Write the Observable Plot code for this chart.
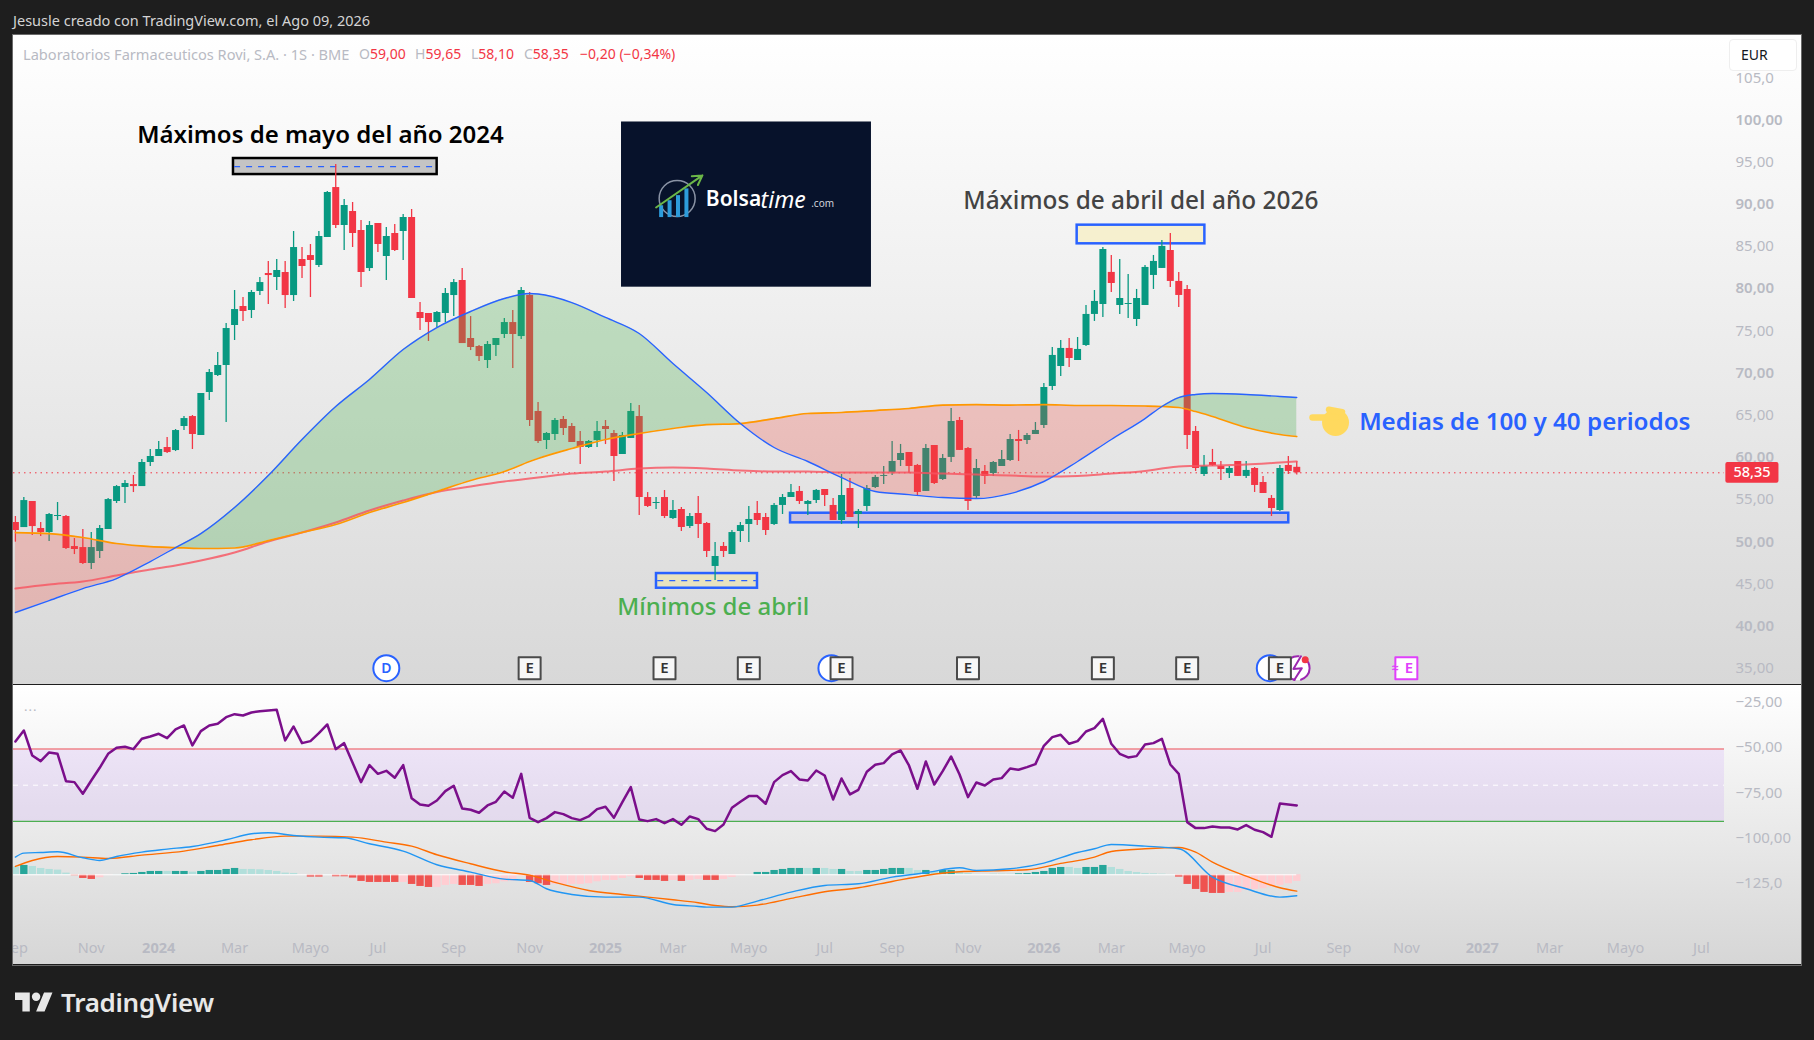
<!DOCTYPE html>
<html lang="es"><head><meta charset="utf-8">
<script src="https://cdn.jsdelivr.net/npm/d3@7"></script>
<script src="https://cdn.jsdelivr.net/npm/@observablehq/plot@0.6"></script>
<style>
html,body{margin:0;padding:0;background:#1e1e1e;width:1814px;height:1040px;overflow:hidden;font-family:"Noto Sans",sans-serif}
.abs{position:absolute;white-space:nowrap}
#frame{position:absolute;left:12px;top:34px;width:1788px;height:930px;border:1px solid #6a6a6a;box-sizing:content-box}
#main,#sub{position:absolute;left:13px;width:1788px;overflow:hidden}
#main{top:35px;height:649px}#sub{top:685px;height:279px}
#main svg,#sub svg{display:block}
</style></head><body>
<div id="frame"></div><div id="main"></div><div id="sub"></div>
<div class="abs" style="left:13px;top:10px;font-size:14.5px;color:#d4d4d4">Jesusle creado con TradingView.com, el Ago 09, 2026</div>
<div class="abs" id="legend" style="left:23px;top:44px;font-size:14px;color:#b8bac3;height:20px">
<span class="abs" style="left:0;font-size:14.6px">Laboratorios Farmaceuticos Rovi, S.A. · 1S · BME</span>
<span class="abs" style="left:336px">O<span style="color:#f23645">59,00</span></span>
<span class="abs" style="left:392px">H<span style="color:#f23645">59,65</span></span>
<span class="abs" style="left:448px">L<span style="color:#f23645">58,10</span></span>
<span class="abs" style="left:501px">C<span style="color:#f23645">58,35</span></span>
<span class="abs" style="left:557px;color:#f23645">−0,20 (−0,34%)</span></div>
<div class="abs" style="left:1729px;top:39px;width:68px;height:32px;background:#fff;border:1px solid #eeeeee;border-radius:4px;box-sizing:border-box;font-size:14px;color:#131722;line-height:30px;padding-left:11px">EUR</div>
<div class="abs" style="left:24px;top:697px;font-size:13px;color:#b8bac3;letter-spacing:1px">...</div>
<svg class="abs" style="left:15px;top:992px" width="38" height="20" viewBox="0 4 36 18"><path fill="#e8e8e8" d="M14 22H7V11H0V4h14v18zM28 22h-8l7.5-18h8L28 22z"/><circle fill="#e8e8e8" cx="20" cy="8" r="4"/></svg>
<div class="abs" style="left:61px;top:984px;font-size:26px;font-weight:600;color:#e8e8e8;letter-spacing:-.3px">TradingView</div>
<script>
const FONT = "'Noto Sans',sans-serif";
// ---- weekly candles (oldest first)
const open = [52.46,51.86,54.95,51.75,51.27,53.17,53.17,49.61,49.49,47.60,49.02,51.63,54.95,56.61,56.96,56.72,59.57,60.28,61.35,60.99,63.84,65.02,62.77,67.87,69.88,71.07,75.81,78.06,77.59,79.84,81.97,
81.50,82.09,79.36,83.63,84.10,82.92,86.24,92.16,87.66,89.32,87.07,82.56,87.90,83.99,86.71,86.95,88.61,77.35,77.23,76.16,77.23,79.36,81.14,74.27,73.32,71.66,73.44,74.74,76.16,74.50,
79.37,65.62,62.18,62.89,64.67,63.84,62.06,61.35,62.18,63.84,63.01,60.52,62.42,65.02,55.42,54.71,55.42,52.93,54.00,51.99,53.53,52.34,47.25,49.62,48.67,51.39,52.22,53.53,53.05,52.22,54.48,55.42,
56.14,54.60,55.07,56.37,54.48,52.70,56.49,53.41,54.36,56.61,57.92,58.39,59.81,60.76,59.22,56.14,61.59,57.56,60.17,64.55,61.23,55.54,58.51,58.27,59.10,59.81,62.30,62.18,62.89,
63.96,68.58,70.95,73.09,71.66,73.44,77.12,78.30,82.10,78.18,78.30,76.52,78.18,81.74,82.57,84.70,81.03,80.08,63.25,58.15,59.57,59.10,58.27,59.69,57.92,58.86,57.20,55.31,53.88,59.22,59.00];
const high = [53.17,55.42,54.95,52.46,53.52,54.83,53.29,50.56,51.63,51.27,52.10,55.30,56.84,57.44,58.03,59.92,61.11,62.06,62.53,63.48,65.02,65.14,67.75,70.59,72.61,76.04,79.96,79.13,79.96,81.50,83.39,
83.63,83.39,86.95,85.05,85.41,86.95,91.69,94.89,90.74,90.39,88.25,88.13,87.90,87.42,87.78,88.96,89.56,78.53,77.23,77.47,80.19,81.26,82.56,76.87,73.44,73.91,74.27,76.64,77.59,80.31,
79.72,66.68,63.13,64.79,65.02,64.20,63.25,62.18,64.43,64.55,63.37,63.13,66.57,66.33,56.01,55.42,56.25,55.07,54.24,53.53,55.54,52.46,50.09,50.09,51.51,52.46,54.36,54.95,53.53,54.71,55.78,56.96,
56.73,55.07,56.37,56.37,55.31,58.15,57.68,54.00,56.85,58.03,59.10,62.06,61.71,60.76,59.34,61.71,61.59,60.52,65.97,64.91,61.35,59.93,59.22,59.69,60.99,62.89,63.37,63.01,64.31,
68.94,73.21,74.03,74.27,74.39,78.18,79.96,85.06,84.11,83.64,81.86,80.08,82.93,84.11,85.89,86.72,82.10,80.55,63.84,60.40,61.12,59.69,59.10,59.69,59.69,58.98,57.92,55.66,59.22,60.29,59.65];
const low = [50.13,51.86,50.92,50.80,50.21,52.69,49.26,48.66,47.48,46.89,48.19,51.63,54.71,54.71,56.01,56.72,59.09,60.28,60.63,60.87,63.36,61.11,62.77,66.92,69.76,64.31,74.03,76.28,76.64,79.36,78.30,
79.96,77.82,78.65,81.38,79.13,82.68,86.24,87.30,84.70,85.05,80.31,82.21,84.46,81.14,84.58,83.51,79.01,75.21,73.91,75.57,76.16,76.87,73.67,72.84,71.54,70.71,72.13,74.27,70.71,74.15,
63.84,61.82,61.11,62.18,62.77,61.94,59.34,61.23,61.35,61.70,57.32,60.52,62.42,53.29,54.24,54.00,52.93,52.82,51.39,51.75,50.56,48.31,45.59,48.31,48.67,50.09,50.09,52.10,50.92,52.10,53.41,55.42,
54.60,53.29,54.71,54.36,52.70,52.23,53.05,51.75,53.77,56.49,56.97,58.03,59.10,58.27,55.66,56.14,56.97,57.44,59.57,61.00,53.88,55.31,56.97,57.92,59.10,59.69,59.69,61.71,62.89,
63.60,68.11,69.77,70.83,71.66,73.32,76.29,76.76,79.72,77.12,76.64,75.69,78.18,80.08,82.57,80.32,77.95,61.12,58.51,57.92,59.10,57.44,57.68,57.92,57.68,56.02,55.90,53.17,53.76,58.15,58.10];
const close = [51.51,55.06,51.98,51.27,53.41,53.29,49.38,49.26,47.60,49.49,51.75,55.18,56.72,57.08,56.72,59.57,60.28,61.11,60.75,63.36,64.78,62.89,67.75,70.24,71.07,75.45,77.70,77.47,79.72,80.90,81.73,
82.33,79.36,85.05,82.80,83.51,86.36,91.57,87.66,90.03,86.71,82.09,87.66,85.41,86.36,84.70,88.61,79.01,76.64,76.16,77.35,79.60,80.90,73.67,73.20,72.13,73.56,74.27,76.16,74.74,79.96,
64.55,62.06,63.01,64.55,63.60,61.94,61.35,62.06,63.25,63.48,60.28,62.77,65.62,55.42,54.36,54.83,53.17,53.88,51.87,53.17,52.22,49.02,48.43,49.02,51.27,52.10,52.82,52.70,51.51,54.48,55.42,56.01,
54.95,54.95,56.26,55.66,52.70,55.66,53.05,53.77,56.49,57.80,58.03,59.69,60.64,59.10,56.02,61.23,57.08,60.05,64.43,61.00,54.95,58.86,57.92,59.57,59.93,62.30,62.06,62.77,63.37,
68.46,72.26,73.09,71.90,72.97,77.12,78.66,84.82,80.79,79.01,78.42,79.01,82.69,83.40,85.18,81.03,79.37,62.77,58.86,59.10,59.22,58.74,58.86,57.92,58.63,56.85,55.90,54.12,58.86,58.51,58.35];
const lastPrice = 58.35;
// ---- moving averages, sampled at bar positions
const maBars = [0,4,8,12,16,19,22,26,30,34,38,42,46,50,54,58,61,62,66,70,74,78,82,86,90,94,98,102,106,110,114,118,122,126,130,134,136,138,140,142,146,150,152];
const maBlue = [41.79,43.21,44.63,45.82,47.83,49.49,51.15,54.24,58.03,62.30,66.21,69.41,72.96,75.57,77.47,79.01,79.60,79.54,78.53,76.76,74.86,71.30,67.87,64.19,61.35,59.69,57.79,56.13,55.77,55.42,55.30,55.89,57.32,59.69,62.30,64.78,66.21,67.27,67.63,67.75,67.63,67.39,67.27];
const maOrange = [51.27,51.15,50.68,49.97,49.61,49.49,49.38,49.44,50.32,51.27,52.22,53.64,54.83,56.13,57.44,58.50,59.69,60.04,61.23,62.30,63.01,63.60,64.07,64.19,64.78,65.38,65.50,65.73,65.97,66.38,66.44,66.38,66.44,66.33,66.33,66.27,66.21,66.09,65.61,65.02,63.72,62.89,62.65];
const maRed = [44.63,45.11,45.46,46.17,46.89,47.36,47.95,48.90,50.21,51.27,52.46,53.88,55.06,56.07,56.73,57.32,57.67,57.79,58.26,58.50,58.86,58.98,58.86,58.62,58.50,58.50,58.38,58.38,58.38,58.26,58.15,58.03,57.91,57.97,58.26,58.56,58.86,59.10,59.16,59.22,59.33,59.57,59.69];
// ---- oscillator line
const wr = [-45.83,-39.75,-53.57,-56.70,-51.91,-52.65,-67.75,-68.30,-74.74,-67.38,-60.38,-52.65,-49.33,-48.78,-50.07,-44.36,-43.07,-41.60,-43.99,-39.20,-36.99,-48.04,-40.12,-36.99,-36.07,-32.39,-30.73,-31.47,-29.81,-29.07,-28.70,-28.34,-45.28,-37.54,-46.75,-45.65,-41.23,-36.44,-50.07,-46.75,-57.62,-68.30,-58.91,-63.70,-62.04,-65.90,-58.91,-77.14,-80.64,-81.37,-78.43,-73.27,-70.32,-82.85,-83.58,-85.24,-81.19,-79.16,-73.46,-76.95,-63.70,-88.00,-90.40,-88.19,-84.87,-85.98,-88.19,-89.29,-87.27,-83.22,-81.93,-88.00,-79.35,-71.06,-88.93,-89.85,-88.74,-90.95,-88.74,-91.87,-87.27,-88.74,
-94.08,-95.37,-91.69,-82.48,-79.16,-76.03,-76.03,-80.27,-68.30,-64.43,-62.22,-66.83,-67.38,-61.85,-64.62,-77.87,-66.27,-75.11,-72.53,-62.59,-58.72,-57.80,-53.01,-50.80,-59.09,-71.98,-56.88,-69.59,-62.22,-54.12,-64.06,-76.59,-68.48,-70.14,-66.83,-66.09,-60.75,-61.49,-60.01,-58.35,-48.23,-43.44,-42.15,-47.12,-45.65,-40.31,-38.47,-33.31,-47.12,-52.65,-54.67,-53.93,-47.49,-46.75,-44.36,-58.54,-63.70,-90.40,-93.71,-93.71,-92.79,-93.34,-93.34,-94.45,-92.05,-94.63,-95.92,-98.50,-80.09,-80.64,-81.19];
// ---- MACD, read against the lower pane's axis
const macdBase = -119.5;
const macdHist = [4.24,5.16,4.60,3.50,2.95,2.58,0.92,-0.55,-2.03,-2.58,-1.66,-0.18,0.18,0.55,0.74,1.29,1.84,1.84,1.84,1.84,1.84,1.47,1.84,2.39,2.39,2.95,3.50,2.95,2.95,2.76,2.39,1.84,0.92,0.74,0,-1.29,-1.29,0.18,-1.10,-1.10,-1.84,-3.68,-4.24,-4.24,-4.24,-4.24,-4.24,-5.34,-6.45,-7.00,-7.00,-5.89,-5.34,-5.89,-5.89,-6.45,-5.34,-4.97,-3.87,-3.50,-0.92,-4.24,-4.97,-5.89,-5.34,-5.34,-5.34,-5.34,-4.97,-3.87,-3.13,-3.13,-2.03,-1.10,-2.03,-3.13,-3.13,-3.68,-3.13,-3.68,-3.13,-2.58,-3.13,-3.13,-2.58,-1.47,-0.18,0.18,1.29,1.29,2.39,2.95,3.50,3.50,3.50,3.50,3.50,2.95,2.95,1.84,1.84,2.39,2.39,2.95,3.50,3.50,3.50,2.39,2.39,1.84,2.39,2.39,1.84,0.74,0.18,0,0.37,0.37,0.37,0.55,0.74,1.29,1.84,3.50,4.05,4.05,3.50,4.05,4.05,5.16,4.05,2.95,1.84,1.29,0.74,0.55,0.37,0.18,-1.29,-5.34,-8.10,-9.76,-10.31,-10.31,-9.76,-9.76,-8.66,-8.10,-7.73,-6.81,-5.89,-4.97,-3.68];
const histShade = "LDLLLLLRRR"+"PPLDDDDDLD"+"DLDDDDDLLL"+"LLLLLRRLRR"+"RRRRRRPRRR"+"PPPRRRPPPP"+"PRRRPPPPPP"+"PPPPRRRRPR"+"PPRRPPPLDD"+"DDDDLDLLDL"+"LDDDDDLLDL"+"DDLLLLLLLD"+"DDDDDLLDDD"+"LLLLLLLLRR"+"RRRRPPPPPPPPP";
const macdBlueBars = [0,1,3,5,8,10,12,15,18,21,25,28,30,33,36,39,42,46,50,54,58,61,63,66,70,74,78,81,82,85,88,92,96,100,104,108,112,114,118,122,126,128,130,134,138,142,146,150,152];
const macdBlue = [-109.73,-107.52,-107.16,-106.79,-110.10,-111.58,-109.37,-106.97,-105.32,-103.84,-100.16,-96.84,-96.29,-97.76,-98.69,-99.05,-102.37,-106.42,-113.97,-118.02,-121.89,-122.63,-127.23,-130.36,-131.83,-131.83,-135.89,-136.99,-137.36,-137.36,-134.04,-129.07,-125.39,-124.47,-120.78,-118.39,-115.63,-117.10,-116.18,-113.05,-107.16,-105.13,-102.74,-103.66,-105.13,-120.78,-127.23,-131.83,-131.10];
const macdOrangeBars = [0,2,5,8,11,15,20,24,28,32,36,40,44,47,50,54,58,61,64,68,72,75,78,81,83,85,88,92,96,100,104,108,112,116,120,124,128,130,134,138,140,142,146,150,152];
const macdOrange = [-114.89,-111.58,-109.37,-109.73,-110.47,-108.63,-106.42,-103.29,-100.16,-98.13,-98.13,-98.69,-101.45,-103.66,-108.45,-113.42,-117.84,-119.68,-123.73,-128.15,-130.36,-131.83,-133.31,-134.96,-136.44,-137.17,-136.25,-132.57,-128.89,-126.68,-123.18,-119.86,-117.84,-117.29,-116.73,-113.23,-109.73,-106.60,-105.13,-104.39,-106.97,-112.50,-120.23,-126.68,-128.52];
// ---- axis labels
const priceTicks = [105,95,85,75,65,55,45,35];
const priceTickLabels = ["105,0","95,00","85,00","75,00","65,00","55,00","45,00","35,00"];
const priceTicksBold = [100,90,80,70,60,50,40];
const priceTickBoldLabels = ["100,00","90,00","80,00","70,00","60,00","50,00","40,00"];
const oscTicks = [-25,-50,-75,-100,-125];
const oscTickLabels = ["−25,00","−50,00","−75,00","−100,00","−125,0"];
const timeTicks = [0,9,26,35,43,52,61,78,87,96,104,113,130,139,148,157,165,182,191,200];
const timeLabels = ["Sep","Nov","Mar","Mayo","Jul","Sep","Nov","Mar","Mayo","Jul","Sep","Nov","Mar","Mayo","Jul","Sep","Nov","Mar","Mayo","Jul"];
const yearTicks = [17,70,122,174];
const yearLabels = ["2024","2025","2026","2027"];
// ---- chart events
const eventE = [61,77,87,98,113,129,139,150];
const eventDividend = [96.8,148.8];
// ---- annotation boxes (bar / price)
const boxes = [
 {x1:25.87,x2:50.03,y1:93.70,y2:95.60,fill:"#c4c4c4",stroke:"#000000"},
 {x1:76.05,x2:88.03,y1:44.67,y2:46.41,fill:"#e8e3c0",stroke:"#2962ff"},
 {x1:91.95,x2:151.05,y1:52.42,y2:53.56,fill:"#cbc3dc",stroke:"#2962ff"},
 {x1:125.95,x2:141.1,y1:85.49,y2:87.70,fill:"#f6f0cf",stroke:"#2962ff"}];
const dashes = [{x1:26,x2:50,y:94.65},{x1:76.2,x2:87.9,y:45.58}];

const bars = open.map((o,i)=>({i,o,h:high[i],l:low[i],c:close[i],t:Math.max(o,close[i]),b:Math.min(o,close[i])}));
const up = bars.filter(d=>d.c>=d.o), down = bars.filter(d=>d.c<d.o);
const ma = maBars.map((i,k)=>({i,blue:maBlue[k],orange:maOrange[k],red:maRed[k]}));
const seg = (a,b)=>ma.filter(d=>d.i>=a&&d.i<=b);
const GREEN="#089981", RED="#f23645", GT="#b8bac3", CURVE="monotone-x";
const area = (a,b,fill,op)=>Plot.areaY(seg(a,b),{x:"i",y1:"blue",y2:"orange",fill,fillOpacity:op,curve:CURVE});
const lookup=(k,l)=>v=>l[k.indexOf(v)];

const main = Plot.plot({
  width:1788,height:649,marginLeft:0,marginRight:77,marginTop:0,marginBottom:0,
  style:{background:"linear-gradient(#ffffff,#d8d8d8)",fontFamily:FONT,overflow:"hidden"},
  x:{type:"linear",domain:[-0.225,202.74],axis:null},
  y:{type:"linear",domain:[33.26,110.18],axis:null},
  marks:[
    Plot.ruleY([lastPrice],{stroke:RED,strokeWidth:1,strokeDasharray:"1.5 4"}),
    Plot.rect(boxes,{x1:"x1",x2:"x2",y1:"y1",y2:"y2",fill:"fill",stroke:"stroke",strokeWidth:2.5}),
    Plot.ruleY(dashes,{x1:"x1",x2:"x2",y:"y",stroke:"#2962ff",strokeWidth:1.2,strokeDasharray:"6 6"}),
    Plot.ruleX(up,{x:"i",y1:"l",y2:"h",stroke:GREEN,strokeWidth:1.3}),
    Plot.ruleX(down,{x:"i",y1:"l",y2:"h",stroke:RED,strokeWidth:1.3}),
    Plot.ruleX(up,{x:"i",y1:"b",y2:"t",stroke:GREEN,strokeWidth:7}),
    Plot.ruleX(down,{x:"i",y1:"b",y2:"t",stroke:RED,strokeWidth:7}),
    area(0,19,"#f44336",.25),area(19,86,"#4caf50",.3),area(86,136,"#f44336",.25),area(136,152,"#4caf50",.3),
    Plot.line(ma,{x:"i",y:"red",stroke:"#f7525f",strokeWidth:2,strokeOpacity:.8,curve:CURVE}),
    Plot.line(ma,{x:"i",y:"orange",stroke:"#ff9800",strokeWidth:1.7,curve:CURVE}),
    Plot.line(ma,{x:"i",y:"blue",stroke:"#2962ff",strokeWidth:1.4,curve:CURVE}),
    // logo
    Plot.rect([0],{x1:[71.9],x2:[101.55],y1:[80.35],y2:[99.93],fill:"#07122b"}),
    Plot.dot([0],{x:[78.5],y:[90.86],r:18,stroke:"#8a93a5",strokeWidth:1.5}),
    Plot.ruleX([76.6,77.6,78.6,79.6],{y1:[88.6,88.6,88.6,88.6],y2:[90,90.6,91.2,92],stroke:"#2d9cdb",strokeWidth:4}),
    Plot.arrow([0],{x1:[76],y1:[89.8],x2:[81.5],y2:[93.6],stroke:"#6bb648",strokeWidth:2,headLength:8}),
    Plot.text(["Bolsa"],{x:[81.9],y:[90.74],textAnchor:"start",fontSize:21,fontWeight:600,fill:"#ffffff"}),
    Plot.text(["time"],{x:[88.4],y:[90.6],textAnchor:"start",fontSize:23,fontStyle:"italic",fill:"#ffffff"}),
    Plot.text([".com"],{x:[94.4],y:[90.2],textAnchor:"start",fontSize:10,fill:"#cfd3da"}),
    // annotations
    Plot.text(["Máximos de mayo del año 2024"],{x:[36.19],y:[98.33],fontSize:24,fontWeight:600,fill:"#000000"}),
    Plot.text(["Máximos de abril del año 2026"],{x:[133.5],y:[90.54],fontSize:24.4,fontWeight:500,fill:"#434343"}),
    Plot.text(["Mínimos de abril"],{x:[82.78],y:[42.42],fontSize:24,fontWeight:500,fill:"#4caf50"}),
    Plot.text(["Medias de 100 y 40 periodos"],{x:[159.4],y:[64.31],textAnchor:"start",fontSize:24.2,fontWeight:600,fill:"#2962ff"}),
    // hand
    Plot.dot([0],{x:[156.6],y:[64.31],r:13.5,fill:"#ffd95e"}),
    Plot.line([0,1],{x:[153.87,156.6],y:[64.9,64.9],stroke:"#ffd95e",strokeWidth:6.5,strokeLinecap:"round"}),
    Plot.line([0,1],{x:[155.8,157.4],y:[65.85,65.55],stroke:"#ffd95e",strokeWidth:6,strokeLinecap:"round"}),
    // events
    Plot.dot([0],{x:[44],y:[35.19],r:13,fill:"#ffffff",stroke:"#2962ff",strokeWidth:2}),
    Plot.text(["D"],{x:[44],y:[35.19],fontSize:14,fontWeight:600,fill:"#2962ff"}),
    Plot.dot(eventDividend,{x:d=>d,y:()=>35.19,r:13,fill:"#ffffff",stroke:"#2962ff",strokeWidth:2}),
    Plot.dot([0],{x:[152.1],y:[35.19],r:12,fill:"#ffffff",stroke:"#9c27b0",strokeWidth:2,strokeDasharray:"16 5"}),
    Plot.line([0,1,2,3],{x:[152.5,151.6,152.6,151.7],y:[36.6,35.1,35.2,33.8],stroke:"#9c27b0",strokeWidth:2}),
    Plot.dot([0],{x:[153.0],y:[36.2],r:3.5,fill:RED}),
    Plot.dot(eventE,{x:d=>d,y:()=>35.19,symbol:"square",r:12.4,fill:"#f7f7f7",stroke:"#4a4a4a",strokeWidth:2,strokeLinejoin:"round"}),
    Plot.text(eventE,{x:d=>d,y:()=>35.19,text:()=>"E",fontSize:15,fontWeight:600,fill:"#333333"}),
    Plot.dot([0],{x:[165],y:[35.19],symbol:"square",r:12.4,fill:"#ffffff",stroke:"#e040fb",strokeWidth:2,strokeLinejoin:"round"}),
    Plot.text(["≈"],{x:[163.7],y:[35.19],fontSize:12,fontWeight:600,fill:"#e040fb"}),
    Plot.text(["E"],{x:[165.3],y:[35.19],fontSize:15,fontWeight:600,fill:"#e040fb"}),
    // price axis
    Plot.axisY({anchor:"right",ticks:priceTicks,tickSize:0,tickPadding:11,label:null,fontSize:15,fill:GT,dy:-1.5,tickFormat:lookup(priceTicks,priceTickLabels)}),
    Plot.axisY({anchor:"right",ticks:priceTicksBold,tickSize:0,tickPadding:11,label:null,fontSize:15,fontWeight:600,fill:GT,dy:-1.5,tickFormat:lookup(priceTicksBold,priceTickBoldLabels)}),
    Plot.rect([0],{x1:[202.9],x2:[209.2],y1:[57.12],y2:[59.58],fill:RED,r:2}),
    Plot.text(["58,35"],{x:[206],y:[lastPrice],fontSize:14.5,fontWeight:500,fill:"#ffffff"})
  ]
});
document.getElementById("main").append(main);

const hist = macdHist.map((h,i)=>({i,h,v:macdBase+h,s:histShade[i]}));
const histMark = (s,color)=>Plot.ruleX(hist.filter(d=>d.s===s),{x:"i",y1:()=>macdBase,y2:"v",stroke:color,strokeWidth:7.4});
const sub = Plot.plot({
  width:1788,height:279,marginLeft:0,marginRight:77,marginTop:0,marginBottom:30,
  style:{background:"linear-gradient(#ffffff,#d6d6d6)",fontFamily:FONT,overflow:"hidden"},
  x:{type:"linear",domain:[-0.225,202.74],axis:null},
  y:{type:"linear",domain:[-152.5,-14.9],axis:null},
  marks:[
    Plot.rect([0],{x1:[-0.225],x2:[202.74],y1:[-90],y2:[-50],fill:"#9c40ff",fillOpacity:.1}),
    Plot.ruleY([-50],{stroke:"#f25555",strokeWidth:1.2}),
    Plot.ruleY([-90],{stroke:"#4caf50",strokeWidth:1.2}),
    Plot.ruleY([-70],{stroke:"#ffffff",strokeWidth:1,strokeDasharray:"5 5"}),
    histMark("D","#26a69a"),histMark("L","#b2dfdb"),histMark("R","#ef5350"),histMark("P","#ffcdd2"),
    Plot.ruleY([macdBase],{x1:()=>-0.225,x2:()=>152,stroke:"#ffffff",strokeWidth:1}),
    Plot.line(macdOrange,{x:(d,k)=>macdOrangeBars[k],y:d=>d,stroke:"#ff6d00",strokeWidth:1.4,curve:CURVE}),
    Plot.line(macdBlue,{x:(d,k)=>macdBlueBars[k],y:d=>d,stroke:"#2196f3",strokeWidth:1.4,curve:CURVE}),
    Plot.line(wr,{x:(d,k)=>k,y:d=>d,stroke:"#7b0f8b",strokeWidth:2.5}),
    Plot.axisY({anchor:"right",ticks:oscTicks,tickSize:0,tickPadding:11,label:null,fontSize:15,fill:GT,dy:-1.5,tickFormat:lookup(oscTicks,oscTickLabels)}),
    Plot.axisX({anchor:"bottom",ticks:timeTicks,tickSize:0,tickPadding:8,label:null,fontSize:14.5,fill:GT,tickFormat:lookup(timeTicks,timeLabels)}),
    Plot.axisX({anchor:"bottom",ticks:yearTicks,tickSize:0,tickPadding:8,label:null,fontSize:14.5,fontWeight:700,fill:GT,tickFormat:lookup(yearTicks,yearLabels)})
  ]
});
document.getElementById("sub").append(sub);
</script>
</body></html>
